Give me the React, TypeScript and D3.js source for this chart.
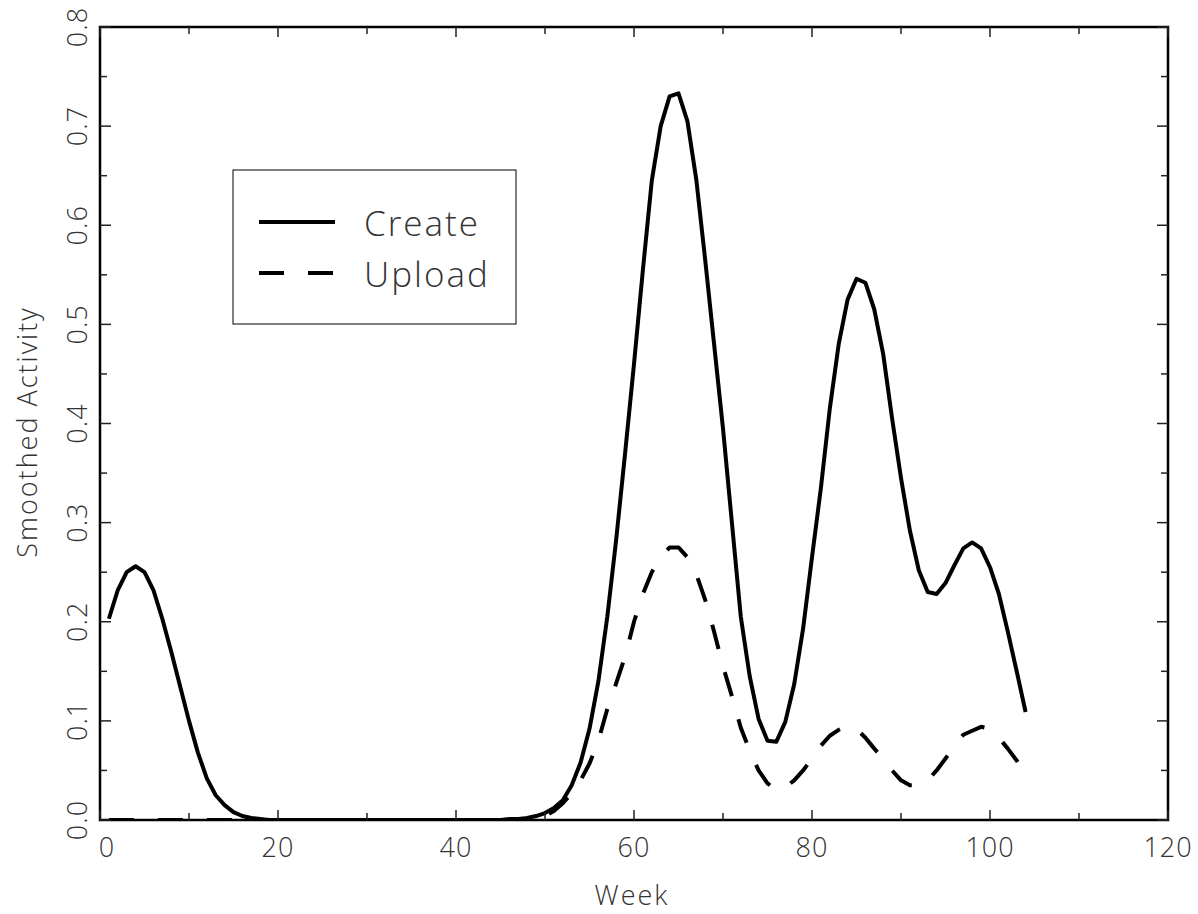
import * as d3 from "d3";

// weekly smoothed activity, weeks 1..104
const weeks = d3.range(1, 105);

const createValues = [
  0.203, 0.232, 0.250, 0.256, 0.250, 0.232, 0.203, 0.170, 0.135, 0.100,
  0.068, 0.042, 0.025, 0.015, 0.008, 0.004, 0.002, 0.001, 0.000, 0.000,
  0.000, 0.000, 0.000, 0.000, 0.000, 0.000, 0.000, 0.000, 0.000, 0.000,
  0.000, 0.000, 0.000, 0.000, 0.000, 0.000, 0.000, 0.000, 0.000, 0.000,
  0.000, 0.000, 0.000, 0.000, 0.000, 0.001, 0.001, 0.002, 0.004, 0.007,
  0.012, 0.020, 0.035, 0.058, 0.092, 0.140, 0.205, 0.283, 0.370, 0.460,
  0.555, 0.645, 0.700, 0.730, 0.733, 0.705, 0.646, 0.565, 0.480, 0.395,
  0.300, 0.205, 0.145, 0.102, 0.080, 0.079, 0.099, 0.137, 0.193, 0.265,
  0.335, 0.415, 0.480, 0.525, 0.546, 0.542, 0.515, 0.470, 0.405, 0.345,
  0.292, 0.252, 0.230, 0.228, 0.239, 0.257, 0.274, 0.280, 0.274, 0.255,
  0.228, 0.190, 0.150, 0.109,
];

const uploadValues = [
  0.000, 0.000, 0.000, 0.000, 0.000, 0.000, 0.000, 0.000, 0.000, 0.000,
  0.000, 0.000, 0.000, 0.000, 0.000, 0.000, 0.000, 0.000, 0.000, 0.000,
  0.000, 0.000, 0.000, 0.000, 0.000, 0.000, 0.000, 0.000, 0.000, 0.000,
  0.000, 0.000, 0.000, 0.000, 0.000, 0.000, 0.000, 0.000, 0.000, 0.000,
  0.000, 0.000, 0.000, 0.000, 0.000, 0.000, 0.000, 0.001, 0.002, 0.004,
  0.009, 0.017, 0.027, 0.040, 0.057, 0.080, 0.112, 0.138, 0.165, 0.200,
  0.228, 0.250, 0.265, 0.275, 0.275, 0.265, 0.248, 0.222, 0.190, 0.155,
  0.125, 0.093, 0.070, 0.050, 0.037, 0.030, 0.033, 0.040, 0.050, 0.062,
  0.075, 0.085, 0.091, 0.095, 0.092, 0.083, 0.072, 0.062, 0.050, 0.040,
  0.035, 0.035, 0.040, 0.050, 0.062, 0.075, 0.086, 0.090, 0.094, 0.092,
  0.083, 0.072, 0.060, 0.046,
];

const xMajorTicks = [0, 20, 40, 60, 80, 100, 120];
const yMajorTicks = [0.0, 0.1, 0.2, 0.3, 0.4, 0.5, 0.6, 0.7, 0.8];

const seriesNames = ["Create", "Upload"];

const W = 1198;
const H = 914;
const margin = { top: 27, right: 30, bottom: 94, left: 100 };
const FONT = "'Open Sans', 'DejaVu Sans', sans-serif";
const TEXT = "#333";

export default function App() {
  const x = d3.scaleLinear().domain([0, 120]).range([margin.left, W - margin.right]);
  const y = d3.scaleLinear().domain([0, 0.8]).range([H - margin.bottom, margin.top]);

  const line = d3
    .line<number>()
    .x((_, i) => x(weeks[i]))
    .y((d) => y(d));

  const x0 = x.range()[0];
  const x1 = x.range()[1];
  const y0 = y.range()[0];
  const y1 = y.range()[1];

  // minor ticks sit half way between majors
  const xMinor = d3.range(10, 120, 20);
  const yMinor = d3.range(0.05, 0.8, 0.1);

  const lx = 233;
  const ly = 170;

  return (
    <svg width={W} height={H} style={{ position: "absolute", left: 0, top: 0, background: "#fff" }}>
      <defs>
        <clipPath id="plot-clip">
          <rect x={x0} y={y1} width={x1 - x0} height={y0 - y1} />
        </clipPath>
      </defs>

      {/* curves */}
      <g clipPath="url(#plot-clip)">
        <path d={line(createValues) || ""} fill="none" stroke="#000" strokeWidth={4} strokeLinejoin="round" />
        <path
          d={line(uploadValues) || ""}
          fill="none"
          stroke="#000"
          strokeWidth={4}
          strokeDasharray="25 24"
          strokeLinejoin="round"
        />
      </g>

      {/* frame */}
      <rect x={x0} y={y1} width={x1 - x0} height={y0 - y1} fill="none" stroke="#000" strokeWidth={2.5} />

      {/* x ticks, bottom and top */}
      {xMajorTicks.map((t) => (
        <g key={"xt" + t}>
          <line x1={x(t)} x2={x(t)} y1={y0} y2={y0 - 10} stroke="#222" strokeWidth={1.5} />
          <line x1={x(t)} x2={x(t)} y1={y1} y2={y1 + 10} stroke="#222" strokeWidth={1.5} />
          <text
            x={x(t) + (t === 0 ? 7 : 0)}
            y={857}
            textAnchor="middle"
            fontFamily={FONT}
            fontWeight={300}
            fontSize={27}
            letterSpacing={1}
            fill={TEXT}
          >
            {t}
          </text>
        </g>
      ))}
      {xMinor.map((t) => (
        <g key={"xm" + t}>
          <line x1={x(t)} x2={x(t)} y1={y0} y2={y0 - 7} stroke="#222" strokeWidth={1.5} />
          <line x1={x(t)} x2={x(t)} y1={y1} y2={y1 + 7} stroke="#222" strokeWidth={1.5} />
        </g>
      ))}

      {/* y ticks, left and right */}
      {yMajorTicks.map((t) => (
        <g key={"yt" + t}>
          <line x1={x0} x2={x0 + 11} y1={y(t)} y2={y(t)} stroke="#222" strokeWidth={1.5} />
          <line x1={x1} x2={x1 - 11} y1={y(t)} y2={y(t)} stroke="#222" strokeWidth={1.5} />
          <text
            transform={`translate(87,${y(t)}) rotate(-90)`}
            textAnchor="middle"
            fontFamily={FONT}
            fontWeight={300}
            fontSize={27}
            letterSpacing={1}
            fill={TEXT}
          >
            {t.toFixed(1)}
          </text>
        </g>
      ))}
      {yMinor.map((t) => (
        <g key={"ym" + t}>
          <line x1={x0} x2={x0 + 7} y1={y(t)} y2={y(t)} stroke="#222" strokeWidth={1.5} />
          <line x1={x1} x2={x1 - 7} y1={y(t)} y2={y(t)} stroke="#222" strokeWidth={1.5} />
        </g>
      ))}

      {/* axis titles */}
      <text
        x={632}
        y={905}
        textAnchor="middle"
        fontFamily={FONT}
        fontWeight={300}
        fontSize={27}
        letterSpacing={2}
        fill={TEXT}
      >
        Week
      </text>
      <text
        transform={`translate(37,432) rotate(-90)`}
        textAnchor="middle"
        fontFamily={FONT}
        fontWeight={300}
        fontSize={27}
        letterSpacing={2}
        fill={TEXT}
      >
        Smoothed Activity
      </text>

      {/* legend */}
      <rect x={lx} y={ly} width={283} height={154} fill="#fff" stroke="#000" strokeWidth={1} />
      {seriesNames.map((name, i) => (
        <g key={name}>
          <line
            x1={lx + 26}
            x2={lx + 102}
            y1={ly + 52 + i * 51}
            y2={ly + 52 + i * 51}
            stroke="#000"
            strokeWidth={4}
            strokeDasharray={i === 1 ? "25 24" : undefined}
          />
          <text
            x={lx + 131}
            y={ly + 66 + i * 51}
            fontFamily={FONT}
            fontWeight={300}
            fontSize={35}
            letterSpacing={2}
            fill={TEXT}
          >
            {name}
          </text>
        </g>
      ))}
    </svg>
  );
}
